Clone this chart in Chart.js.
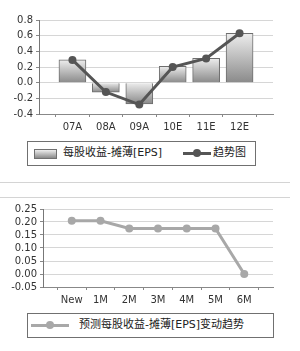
<!DOCTYPE html>
<html lang="zh">
<head>
<meta charset="UTF-8">
<title>每股收益</title>
<script src="https://cdn.jsdelivr.net/npm/chart.js@4.4.0/dist/chart.umd.min.js"></script>
<style>
    body { margin: 0; width: 300px; height: 351px; background: #fff; position: relative; overflow: hidden;
           font-family: "DejaVu Sans", "Noto Sans CJK SC", sans-serif; color: #222; }
    .box { position: absolute; }
    .legend { position: absolute; border: 1px solid #707070; box-sizing: border-box; background: #fff;
              font-size: 11px; font-family: "DejaVu Sans", "Noto Sans CJK SC", sans-serif; }
    .legend span { position: absolute; white-space: nowrap; line-height: 12px; }
    .sep { position: absolute; left: 0; width: 290px; border-top: 1px solid #d4d4d4; }
</style>
</head>
<body>
<div class="box" style="left:0;top:0;width:300px;height:135px;"><canvas id="chart"></canvas></div>
<div class="legend" style="left:27px;top:141px;width:229px;height:25px;">
    <span id="swatch" style="left:6px;top:7px;width:21px;height:8px;border:1px solid #707070;"></span>
    <span id="lbl1" style="left:35px;top:5px;"></span>
    <span id="sym1" style="left:155px;top:10px;width:28px;height:3px;"></span>
    <span id="dot1" style="left:165px;top:7px;width:8px;height:8px;border-radius:4px;"></span>
    <span id="lbl2" style="left:185px;top:5px;"></span>
</div>

<div class="sep" style="top:182px;"></div>
<div class="sep" style="top:197px;"></div>

<div class="box" style="left:0;top:200px;width:300px;height:110px;"><canvas id="chart2"></canvas></div>
<div class="legend" style="left:27px;top:313px;width:247px;height:25px;">
    <span id="sym2" style="left:3px;top:10px;width:38px;height:3px;"></span>
    <span id="dot2" style="left:18px;top:7px;width:8px;height:8px;border-radius:4px;"></span>
    <span id="lbl3" style="left:51px;top:5px;"></span>
</div>

<script>
    // datos del grafico superior
    const periodos = ['07A', '08A', '09A', '10E', '11E', '12E'];
    const eps = [0.29, -0.12, -0.27, 0.21, 0.31, 0.63];
    const tendencia = [0.29, -0.12, -0.28, 0.20, 0.31, 0.63];
    const ticksSup = [-0.4, -0.2, 0.0, 0.2, 0.4, 0.6, 0.8];

    // datos del grafico inferior
    const meses = ['New', '1M', '2M', '3M', '4M', '5M', '6M'];
    const prevision = [0.205, 0.205, 0.175, 0.175, 0.175, 0.175, 0.0];
    const ticksInf = [-0.05, 0.00, 0.05, 0.10, 0.15, 0.20, 0.25];

    const nombreBarra = '每股收益-摊薄[EPS]';
    const nombreLinea = '趋势图';
    const nombrePrev = '预测每股收益-摊薄[EPS]变动趋势';

    const colorLinea = '#555555';
    const colorPrev = '#a8a8a8';
    const barraArriba = '#ededed';
    const barraAbajo = '#8a8a8a';

    const fuente = { family: 'DejaVu Sans', size: 10 };

    // leyendas en html
    document.getElementById('swatch').style.background = 'linear-gradient(' + barraArriba + ',' + barraAbajo + ')';
    document.getElementById('lbl1').textContent = nombreBarra;
    document.getElementById('sym1').style.background = colorLinea;
    document.getElementById('dot1').style.background = colorLinea;
    document.getElementById('lbl2').textContent = nombreLinea;
    document.getElementById('sym2').style.background = colorPrev;
    document.getElementById('dot2').style.background = colorPrev;
    document.getElementById('lbl3').textContent = nombrePrev;

    function puntos(valores) {
        return valores.map((v, i) => ({ x: i, y: v }));
    }

    function ejeX(etiquetas, alto) {
        return {
            type: 'linear',
            offset: false,
            min: -1,
            max: etiquetas.length,
            afterBuildTicks: (s) => { s.ticks = etiquetas.map((e, i) => ({ value: i })); },
            afterFit: (s) => { s.height = alto; },
            grid: { drawOnChartArea: false, offset: true, tickLength: 3, color: '#888' },
            border: { color: '#888' },
            ticks: {
                autoSkip: false, maxRotation: 0, padding: 4, color: '#333', font: fuente,
                callback: (v) => etiquetas[v] ?? ''
            }
        };
    }

    function ejeY(lista, ancho, dec) {
        return {
            min: lista[0],
            max: lista[lista.length - 1],
            afterBuildTicks: (s) => { s.ticks = lista.map(v => ({ value: v })); },
            afterFit: (s) => { s.width = ancho; },
            grid: { color: '#d6d6d6', tickLength: 3, tickColor: '#888' },
            border: { color: '#777' },
            ticks: { autoSkip: false, padding: 3, color: '#333', font: fuente, callback: (v) => v.toFixed(dec) }
        };
    }

    // gradiente por barra, de arriba claro a abajo oscuro
    function gradiente(ctx) {
        const chart = ctx.chart;
        if (!chart.chartArea || ctx.type !== 'data') return '#bbbbbb';
        const y = chart.scales.y;
        const v = ctx.parsed.y;
        const arriba = y.getPixelForValue(Math.max(v, 0));
        const abajo = y.getPixelForValue(Math.min(v, 0));
        const g = chart.ctx.createLinearGradient(0, arriba, 0, abajo);
        g.addColorStop(0, barraArriba);
        g.addColorStop(1, barraAbajo);
        return g;
    }

    new Chart(document.getElementById('chart'), {
        data: {
            datasets: [{
                type: 'line',
                label: nombreLinea,
                data: puntos(tendencia),
                borderColor: colorLinea,
                backgroundColor: colorLinea,
                borderWidth: 3,
                pointRadius: 4,
                pointBorderWidth: 0,
                order: 0
            }, {
                type: 'bar',
                label: nombreBarra,
                data: puntos(eps),
                backgroundColor: gradiente,
                borderColor: '#6e6e6e',
                borderWidth: 1,
                barThickness: 27,
                order: 1
            }]
        },
        options: {
            responsive: true,
            maintainAspectRatio: false,
            animation: false,
            layout: { padding: { left: 0, right: 27, top: 20, bottom: 0 } },
            plugins: { legend: { display: false }, tooltip: { enabled: false } },
            scales: {
                x: ejeX(periodos, 21),
                y: ejeY(ticksSup, 39, 1)
            }
        }
    });

    new Chart(document.getElementById('chart2'), {
        type: 'line',
        data: {
            datasets: [{
                label: nombrePrev,
                data: puntos(prevision),
                borderColor: colorPrev,
                backgroundColor: colorPrev,
                borderWidth: 3,
                pointRadius: 4,
                pointBorderWidth: 0
            }]
        },
        options: {
            responsive: true,
            maintainAspectRatio: false,
            animation: false,
            layout: { padding: { left: 0, right: 27, top: 9, bottom: 0 } },
            plugins: { legend: { display: false }, tooltip: { enabled: false } },
            scales: {
                x: ejeX(meses, 23),
                y: ejeY(ticksInf, 43, 2)
            }
        }
    });
</script>
</body>
</html>
